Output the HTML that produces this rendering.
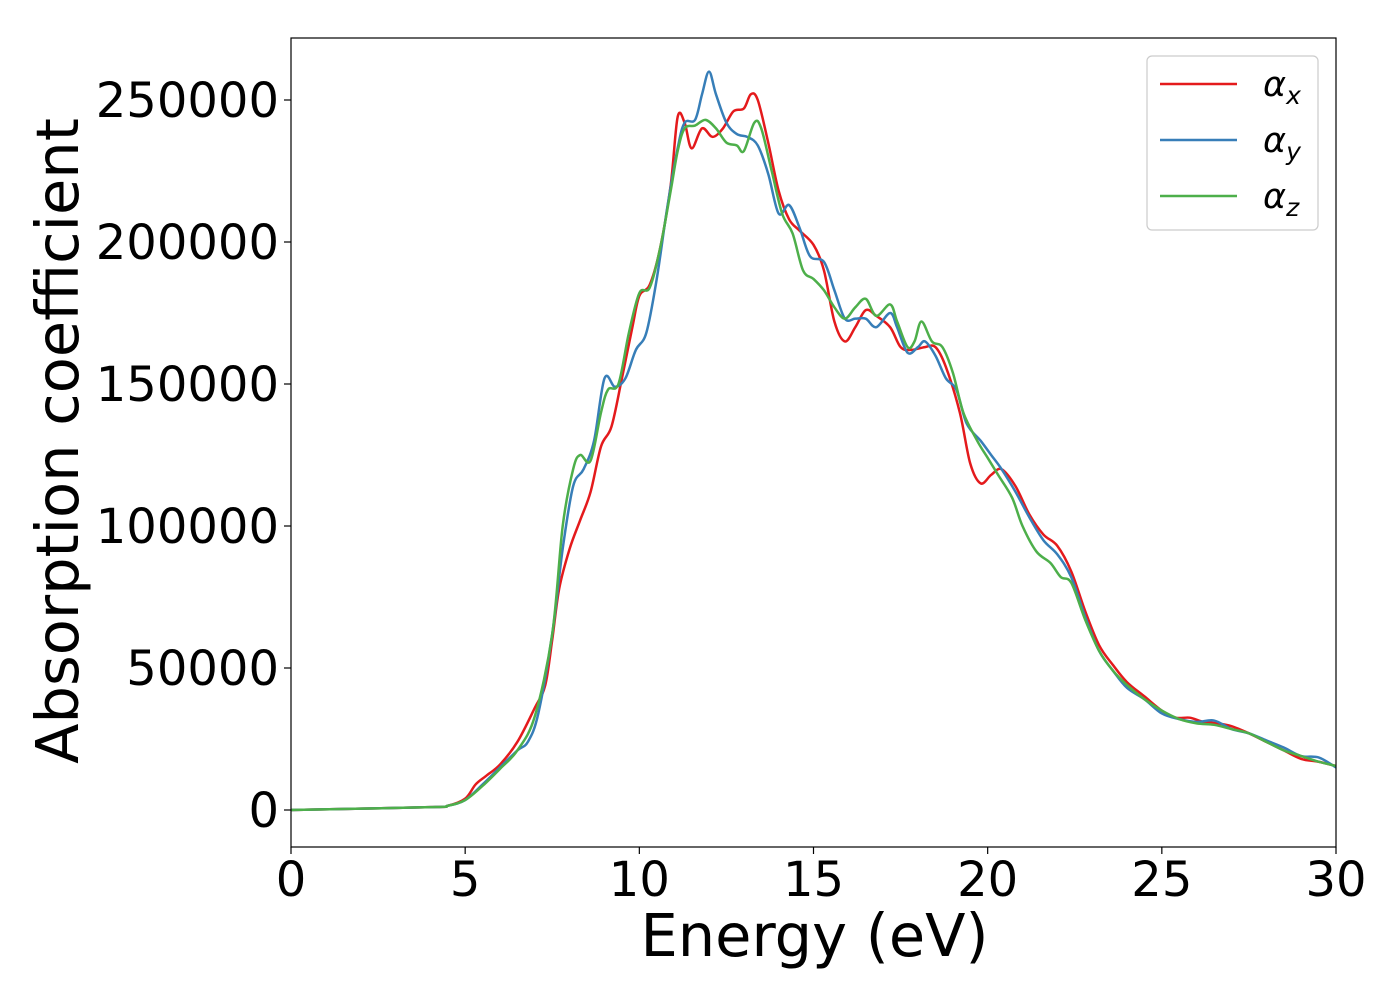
<!DOCTYPE html>
<html><head><meta charset="utf-8"><style>
html,body{margin:0;padding:0;background:#fff;}
svg{display:block;font-family:"DejaVu Sans","Liberation Sans",sans-serif;}
</style></head><body>
<svg id="chart" width="1400" height="1000" viewBox="0 0 1400 1000" xmlns="http://www.w3.org/2000/svg"></svg>
<script>
const xTicks=[0,5,10,15,20,25,30];
const yTicks=[0,50000,100000,150000,200000,250000];
const seriesNames=["x","y","z"];
const seriesColors=["#e41a1c","#377eb8","#4daf4a"];
const energyX=[0,4,4.5,5,5.3,5.6,6,6.5,7,7.3,7.5,7.7,8,8.3,8.6,8.9,9.2,9.5,9.8,10,10.3,10.6,10.9,11.1,11.3,11.5,11.8,12.1,12.4,12.7,13,13.2,13.4,13.7,14,14.3,14.6,15,15.3,15.6,15.9,16.2,16.5,16.8,17.2,17.5,17.8,18.2,18.5,18.8,19.2,19.5,19.8,20.1,20.4,20.8,21.2,21.6,22,22.4,22.8,23.2,23.6,24,24.5,25,25.4,25.8,26.2,26.6,27,27.5,28,28.5,29,29.5,30];
const alphaX=[0,1000,1500,4000,9000,12000,16000,24000,36000,44000,60000,78000,92000,102000,112000,128000,135000,152000,170000,181000,185000,198000,220000,244000,242000,233000,240000,237000,240000,246000,247000,252000,250000,235000,218000,208000,204000,199000,190000,172000,165000,170000,176000,174000,170000,163000,162000,163000,163000,156000,140000,122000,115000,118000,120000,114000,104000,97000,93000,84000,70000,58000,51000,45000,40000,35000,32500,32500,31000,30500,29500,27000,24000,21000,18000,17000,15500];
const energyY=[0,4,4.5,5,5.5,6,6.5,6.8,7.1,7.5,7.8,8.1,8.4,8.7,9,9.3,9.6,9.9,10.2,10.5,10.8,11.1,11.3,11.6,11.8,12,12.2,12.5,12.8,13.1,13.4,13.7,14,14.3,14.6,14.9,15.3,15.6,15.9,16.2,16.5,16.8,17.2,17.4,17.7,18,18.2,18.5,18.8,19.1,19.4,19.8,20.1,20.4,20.8,21.2,21.6,22,22.4,22.8,23.2,23.6,24,24.5,25,25.5,26,26.5,27,27.5,28,28.5,29,29.5,30];
const alphaY=[0,1000,1500,3500,9000,15000,21000,24000,34000,62000,92000,114000,120000,130000,152000,149000,152000,162000,168000,187000,212000,233000,242000,243000,252000,260000,252000,242000,238000,237000,234000,224000,210000,213000,205000,195000,193000,183000,173000,173000,173000,170000,175000,170000,161000,163000,165000,160000,152000,148000,136000,130000,125000,120000,112000,103000,95000,90000,82000,68000,56000,49000,43000,39000,34000,32000,31000,31500,28500,27000,24500,22000,19000,18500,15000];
const energyZ=[0,4,4.5,5,5.5,6,6.5,7,7.5,7.8,8.1,8.3,8.6,8.9,9.1,9.4,9.7,10,10.3,10.6,10.9,11.1,11.3,11.6,11.9,12.2,12.5,12.8,13,13.3,13.5,13.8,14.1,14.4,14.7,15,15.3,15.6,15.9,16.2,16.5,16.8,17.2,17.4,17.7,17.9,18.1,18.4,18.7,19,19.3,19.7,20,20.3,20.7,21,21.4,21.8,22.1,22.4,22.8,23.2,23.6,24,24.5,25,25.5,26,26.5,27,27.5,28,28.5,29,29.5,30];
const alphaZ=[0,1000,1500,3500,8500,14500,21000,33000,62000,100000,120000,125000,123000,140000,148000,150000,168000,182000,184000,198000,218000,232000,240000,241000,243000,240000,235000,234000,232000,242000,240000,225000,210000,203000,190000,187000,183000,177000,173000,177000,180000,174000,178000,172000,163000,165000,172000,165000,163000,154000,140000,130000,124000,118000,110000,100000,91000,87000,82000,80000,67000,56000,49000,44000,39000,35000,32000,30500,30000,28500,27000,24000,21000,19000,17000,15500];

const L=291,R=1336,T=38,B=847;
const X=v=>L+(v-0)/30*(R-L);
const Y=v=>810-v/250000*710;
const NS="http://www.w3.org/2000/svg";
const svg=document.getElementById('chart');
function mk(tag,attrs,parent){const e=document.createElementNS(NS,tag);for(const k in attrs)e.setAttribute(k,attrs[k]);(parent||svg).appendChild(e);return e;}

const clip=mk('clipPath',{id:'pc'});mk('rect',{x:L,y:T,width:R-L,height:B-T},clip);

function pathFor(xs,ys){
  const p=xs.map((x,i)=>[X(x),Y(ys[i])]);
  let d=`M${p[0][0]},${p[0][1]}`;
  for(let i=0;i<p.length-1;i++){
    const p0=p[Math.max(0,i-1)],p1=p[i],p2=p[i+1],p3=p[Math.min(p.length-1,i+2)];
    const c1x=p1[0]+(p2[0]-p0[0])/6,c1y=p1[1]+(p2[1]-p0[1])/6;
    const c2x=p2[0]-(p3[0]-p1[0])/6,c2y=p2[1]-(p3[1]-p1[1])/6;
    d+=`C${c1x},${c1y} ${c2x},${c2y} ${p2[0]},${p2[1]}`;
  }
  return d;
}
const g=mk('g',{'clip-path':'url(#pc)'});


const data=[[energyX,alphaX],[energyY,alphaY],[energyZ,alphaZ]];
data.forEach((s,i)=>{
  const p=mk('path',{d:pathFor(s[0],s[1]),fill:'none',stroke:seriesColors[i],'stroke-width':2.5},g);
  
  
});
const frame=mk('rect',{x:L,y:T,width:R-L,height:B-T,fill:'none',stroke:'#000','stroke-width':1.2});



xTicks.forEach(t=>{
  mk('line',{x1:X(t),x2:X(t),y1:B,y2:B+7,stroke:'#000','stroke-width':1.2});
  const tx=mk('text',{x:X(t),y:B+49,'text-anchor':'middle','font-size':48});
  tx.textContent=t;
  
  
});
yTicks.forEach(t=>{
  mk('line',{x1:L-7,x2:L,y1:Y(t),y2:Y(t),stroke:'#000','stroke-width':1.2});
  const tx=mk('text',{x:L-12,y:Y(t)+17,'text-anchor':'end','font-size':48});
  tx.textContent=t;
  
  
});
const xt=mk('text',{x:(L+R)/2+1,y:956,'text-anchor':'middle','font-size':59});
xt.textContent='Energy (eV)';


const yt=mk('text',{x:0,y:0,'text-anchor':'middle','font-size':59,transform:`translate(78,${441}) rotate(-90)`});
yt.textContent='Absorption coefficient';



const lg=mk('g',{});


mk('rect',{x:1147,y:56,width:171,height:174,rx:5,fill:'#fff','fill-opacity':0.8,stroke:'#ccc','stroke-width':1.2},lg);
seriesNames.forEach((n,i)=>{
  const yy=84+i*56;
  const e=mk('g',{},lg);
  
  
  mk('line',{x1:1160,x2:1237,y1:yy,y2:yy,stroke:seriesColors[i],'stroke-width':2.5},e);
  const t=mk('text',{x:1263,y:yy+12,'font-size':35,'font-style':'italic'},e);
  t.textContent='α';
  const s=mk('tspan',{'font-size':25,dy:8},t);
  s.textContent=n;
});
</script>
</body></html>
